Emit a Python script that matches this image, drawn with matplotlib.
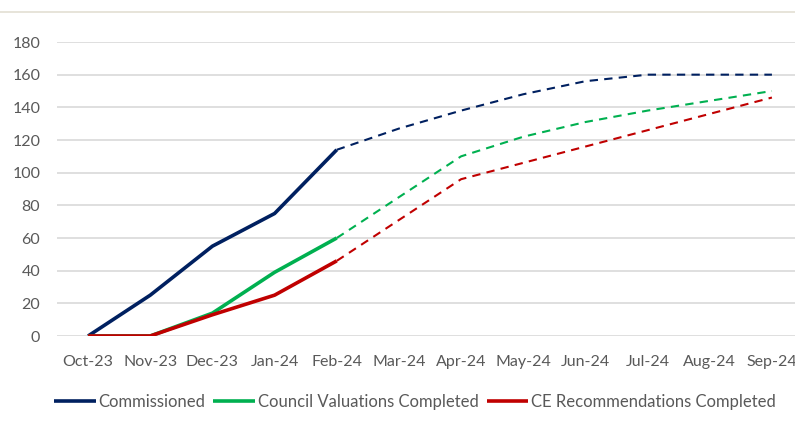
import matplotlib as mpl
mpl.use('Agg')
import numpy as np
import matplotlib.pyplot as plt
from matplotlib.lines import Line2D

months = ['Oct-23', 'Nov-23', 'Dec-23', 'Jan-24', 'Feb-24', 'Mar-24',
          'Apr-24', 'May-24', 'Jun-24', 'Jul-24', 'Aug-24', 'Sep-24']

# actuals run Oct-23..Feb-24, forecasts run Feb-24..Sep-24
commissioned_actual = [0, 25, 55, 75, 114]
commissioned_forecast = [114, 127, 138, 148, 156, 160, 160, 160]
council_actual = [0, 0, 14, 39, 60]
council_forecast = [60, 85, 110, 122, 131, 138, 144, 150]
ce_actual = [0, 0, 13, 25, 46]
ce_forecast = [46, 71, 96, 106, 116, 126, 136, 146]

series_names = ['Commissioned', 'Council Valuations Completed', 'CE Recommendations Completed']
colors = ['#002060', '#00B050', '#C00000']

plt.rcParams['font.family'] = ['Lato', 'DejaVu Sans']
text_col = '#595959'

fig = plt.figure(figsize=(7.95, 4.21), dpi=100)
ax = fig.add_axes([57 / 795, 85 / 421, 746 / 795, 294 / 421])

x_act = np.arange(len(commissioned_actual))
x_fc = np.arange(len(commissioned_actual) - 1, len(months))

handles = []
for act, fc, c, name in zip([commissioned_actual, council_actual, ce_actual],
                            [commissioned_forecast, council_forecast, ce_forecast],
                            colors, series_names):
    ax.plot(x_fc, fc, color=c, lw=1.5, dashes=(4, 3), zorder=3)
for act, fc, c, name in zip([commissioned_actual, council_actual, ce_actual],
                            [commissioned_forecast, council_forecast, ce_forecast],
                            colors, series_names):
    h, = ax.plot(x_act, act, color=c, lw=2.6, solid_capstyle='butt', zorder=4, label=name)
    handles.append(h)

ax.set_xlim(-0.5, len(months) - 0.5)
ax.set_ylim(0, 180)
ax.set_yticks(np.arange(0, 181, 20))
ax.set_xticks(np.arange(len(months)))
ax.set_xticklabels(months)
ax.tick_params(axis='both', length=0, labelsize=11.5, colors=text_col)
ax.tick_params(axis='y', pad=12)
ax.tick_params(axis='x', pad=14)
ax.grid(axis='y', color='#D9D9D9', lw=1.2)
ax.set_axisbelow(True)
for s in ax.spines.values():
    s.set_visible(False)

leg = fig.legend(handles=handles, loc='center left', bbox_to_anchor=(54 / 795, 1 - 402 / 421),
                 ncol=3, frameon=False, fontsize=12, handlelength=2.5, handletextpad=0.15,
                 columnspacing=0.5, borderaxespad=0, borderpad=0)
for t in leg.get_texts():
    t.set_color(text_col)

# thin rule across the top of the page
fig.add_artist(Line2D([0, 1], [1 - 12 / 421, 1 - 12 / 421], color='#E3DFD3', lw=1.2,
                      transform=fig.transFigure))

fig.savefig('out.png', dpi=100)
